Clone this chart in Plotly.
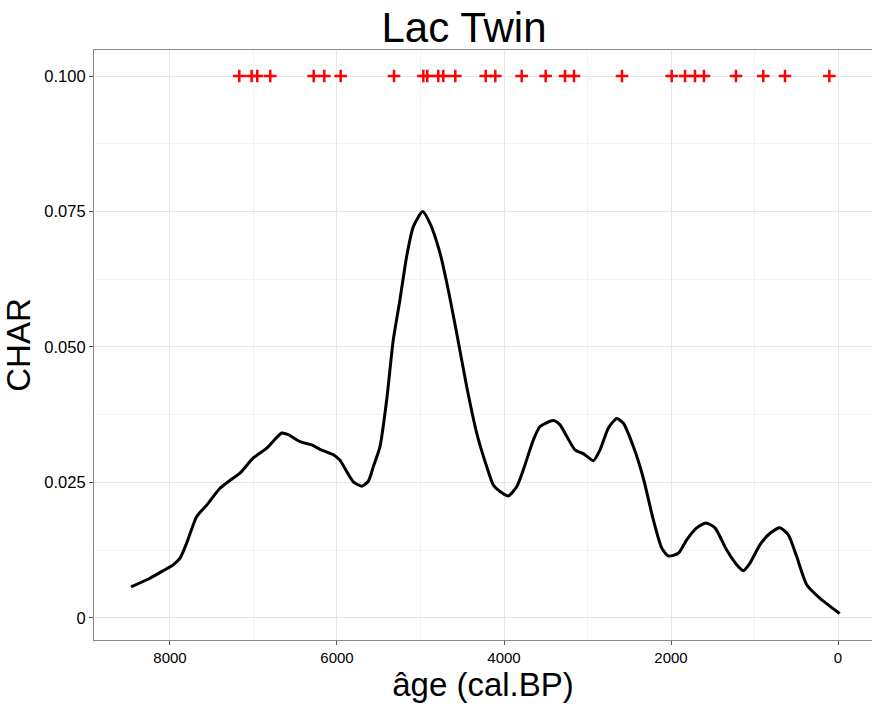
import plotly.graph_objects as go

# Smoothed CHAR curve (age cal.BP, CHAR)
age = [8467, 8240, 8080, 7960, 7880, 7800, 7680, 7560, 7401, 7242, 7162, 7002, 6842,
       6662, 6583, 6443, 6303, 6204, 6044, 5964, 5884, 5805, 5705, 5625, 5565, 5485,
       5405, 5326, 5246, 5166, 5086, 4974, 4886, 4766, 4667, 4566, 4447, 4327, 4207,
       4128, 4048, 3948, 3848, 3769, 3649, 3569, 3410, 3329, 3249, 3150, 3050, 2931,
       2850, 2751, 2650, 2571, 2451, 2332, 2212, 2112, 2032, 1912, 1812, 1692, 1581,
       1473, 1333, 1213, 1134, 1054, 934, 814, 695, 595, 495, 375, 216, -20]
char = [0.0057, 0.0073, 0.0087, 0.0098, 0.0110, 0.0138, 0.0187, 0.0208, 0.0239, 0.0258,
        0.0267, 0.0295, 0.0313, 0.0341, 0.0338, 0.0325, 0.0319, 0.0311, 0.0301, 0.0291,
        0.0270, 0.0251, 0.0243, 0.0252, 0.0279, 0.0316, 0.0402, 0.0513, 0.0587, 0.0667,
        0.0722, 0.0750, 0.0728, 0.0673, 0.0605, 0.0525, 0.0427, 0.0341, 0.0279, 0.0245,
        0.0233, 0.0225, 0.0242, 0.0273, 0.0328, 0.0353, 0.0364, 0.0356, 0.0335, 0.0310,
        0.0303, 0.0290, 0.0310, 0.0350, 0.0368, 0.0359, 0.0316, 0.0258, 0.0181, 0.0129,
        0.0114, 0.0119, 0.0144, 0.0166, 0.0175, 0.0166, 0.0125, 0.0098, 0.0087, 0.0101,
        0.0135, 0.0156, 0.0166, 0.0153, 0.0113, 0.0061, 0.0036, 0.0008]

# Peak (fire event) ages
peak_age = [7170, 7022, 6955, 6799, 6279, 6152, 5956, 5317, 4966, 4919, 4787, 4727,
            4583, 4219, 4104, 3788, 3501, 3269, 3162, 2587, 1992, 1832, 1713, 1605,
            1222, 895, 635, 104]
peak_y = [0.1] * len(peak_age)

y_tickvals = [0, 0.025, 0.05, 0.075, 0.1]
y_ticktext = ["0", "0.025", "0.050", "0.075", "0.100"]
x_tickvals = [8000, 6000, 4000, 2000, 0]

FONT = "Liberation Sans, Arial, Helvetica, sans-serif"

fig = go.Figure()
fig.add_trace(go.Scatter(x=age, y=char, mode="lines",
                         line=dict(color="black", width=3, shape="spline", smoothing=0.6),
                         showlegend=False, hoverinfo="skip"))
fig.add_trace(go.Scatter(x=peak_age, y=peak_y, mode="markers",
                         marker=dict(symbol="cross-thin", size=9, color="red",
                                     line=dict(color="red", width=2.5)),
                         showlegend=False))

fig.update_layout(
    width=872, height=704,
    margin=dict(l=94, r=0, t=50, b=64),
    paper_bgcolor="white", plot_bgcolor="white",
    font=dict(family=FONT, color="black"),
    title=dict(text="Lac Twin", x=464/872, xref="container", xanchor="center",
               y=1 - 42/704, yref="container", yanchor="bottom",
               font=dict(size=42, family=FONT, color="black")),
    xaxis=dict(range=[8910, -407], tickvals=x_tickvals,
               ticks="outside", ticklen=4, tickcolor="#555555",
               tickfont=dict(size=15, color="black"),
               showgrid=True, gridcolor="#e6e6e6", gridwidth=1,
               minor=dict(dtick=1000, tick0=0, showgrid=True, gridcolor="#f3f3f3", gridwidth=1),
               showline=True, linecolor="#888888", linewidth=1.2, mirror=True,
               zeroline=False,
               title=dict(text="âge (cal.BP)", font=dict(size=33, color="black"), standoff=2)),
    yaxis=dict(range=[-0.0041, 0.1048], tickvals=y_tickvals, ticktext=y_ticktext,
               ticks="outside", ticklen=4, tickcolor="#555555",
               tickfont=dict(size=16.5, color="black"),
               showgrid=True, gridcolor="#e6e6e6", gridwidth=1,
               minor=dict(dtick=0.0125, tick0=0, showgrid=True, gridcolor="#f3f3f3", gridwidth=1),
               showline=True, linecolor="#888888", linewidth=1.2, mirror=True,
               zeroline=False,
               title=dict(text="CHAR", font=dict(size=33, color="black"), standoff=3)),
)

fig.write_html("out.html")
